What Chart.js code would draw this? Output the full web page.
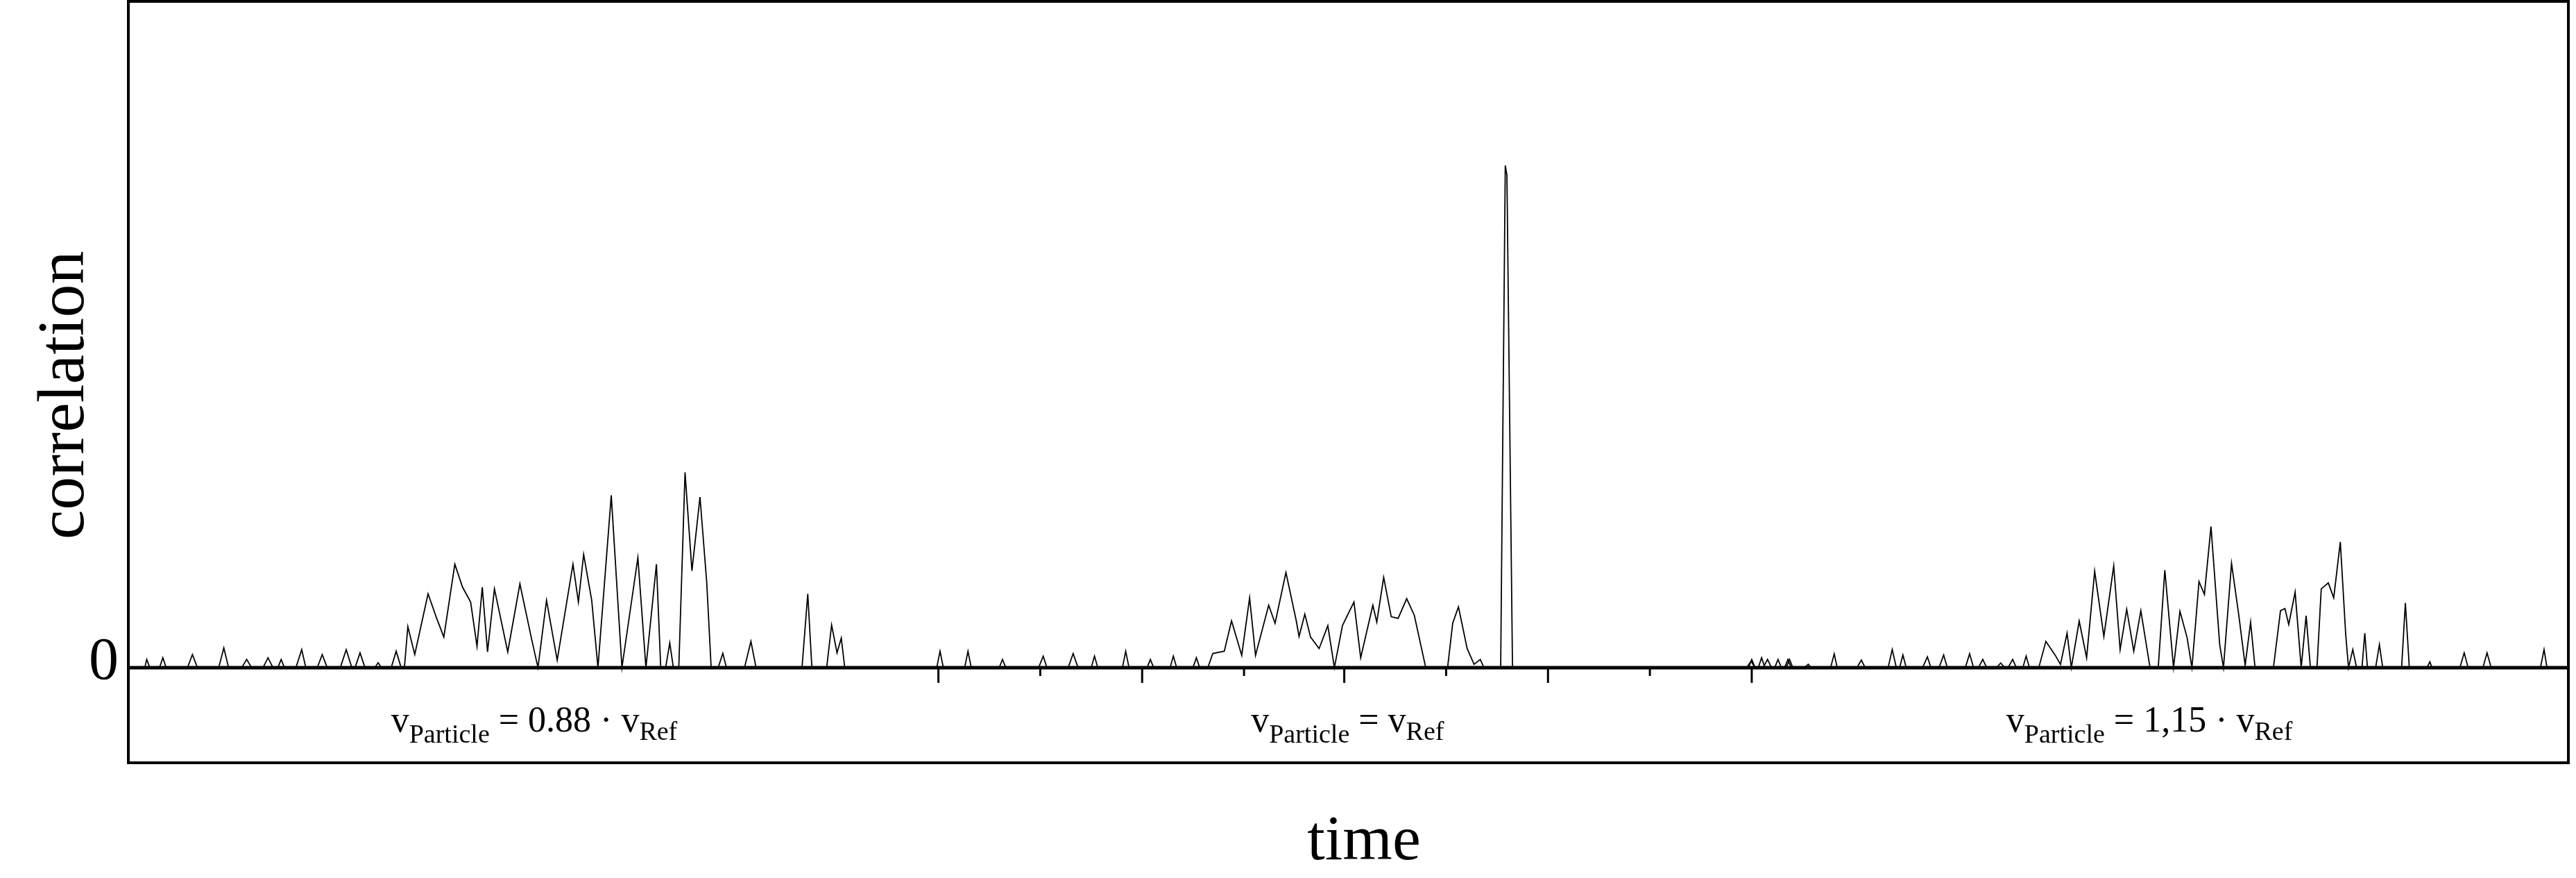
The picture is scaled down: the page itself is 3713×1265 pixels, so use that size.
<!DOCTYPE html>
<html><head><meta charset="utf-8">
<script src="https://cdn.jsdelivr.net/npm/chart.js@4"></script>
<style>html,body{margin:0;padding:0;background:#fff}#wrap{width:3713px;height:1265px}</style>
</head><body><div id="wrap"><canvas id="c" width="3713" height="1265"></canvas></div>
<script>
// x and y in arbitrary time / correlation units
const seg1X=[88,89.2,91,97,99,101,114,117,120,133,136.1,139,147,150,153,160,163,166,169,171,173,180,183.5,186,193,196,199,207,210.6,214,216,219,222,228,230,232,238,241,244,
246,248.1,252.3,260.4,265.3,270,276.7,281.4,286.3,290.2,293.4,296.6,300.8,308.9,316.3,323.5,327.3,332.5,339,348.6,351.9,355.1,360,363.8,371.9,378.4,388.1,393,399.4,402,405,407.5,409.7,413,416.8,421,425.9,430,432.7,437,439.8,442,453,456.9,460,488,491.5,494,503,506,509.3,511.9,514];
const seg1Y=[0,5,0,0,6,0,0,8,0,0,12,0,0,5,0,0,6,0,0,5,0,0,11,0,0,8,0,0,11,0,0,9,0,0,3,0,0,10,0,
0,25,8,45,31,18.6,63,49,40,13,49,9.6,48,9.6,51,17,0,41,4.5,63,40,69,41,0,105,0,67,0,63,0,0,15,0,0,119,59,104,52,0,0,8.7,0,0,16,0,0,45,0,0,26,9,18,0];
const seg2X=[570,572,574,587,589,591,608,610,612,632,634.8,637,650,653,656,664,666,668,683,685,687,698,700,702,712,714,716,726,728,730,
735,738,745,749.4,755.6,760.4,764,772,775.9,782.5,788.8,790.5,794,797.5,802.7,808,812,816.9,823.9,828,835.4,837.8,842,846.6,850.8,856,860.6,867.6,880.9,884,887.5,892.8,897,900.8,903,
913.2,916,917,920.4,1064,1066,1068,1070,1072,1074,1080,1082,1084,1087,1089,1091];
const seg2Y=[0,10,0,0,10,0,0,5,0,0,7,0,0,8.5,0,0,7,0,0,10,0,0,5,0,0,7,0,0,6,0,
0,8.6,10,28.5,7.5,42.5,7.5,38,27,58,28.5,19,32.6,18.6,11.6,25.6,0,25.6,40,6,38,27.7,55,31,30,42,32,0,0,27,37,11.6,2,5,0,
0,306,300,0,0,5,0,0,6,0,0,5,0,0,5,0];
const seg3X=[1063,1065.6,1068,1073,1075.6,1078,1086,1088,1090,1098,1100.4,1102,1114,1116.2,1118,1130,1132.7,1135,1149,1151.5,1154,1156,1158,1160,1170,1172.9,1175,1180,1182.8,1185,1196,1198.6,1201,1204,1206.6,1209,1215,1217.5,1220,1222,1224.8,1227,1231,1233,1235,
1240.7,1245,1250.6,1253.9,1257.9,1260.5,1265.3,1269.8,1274.7,1280.3,1286.3,1290.2,1294.2,1298.5,1302.8,1308.4,1313.4,1317.4,1322.7,1326.6,1330.9,1333.9,1338.2,1341.5,1345.5,1350.8,1353.1,1358,1362.4,1366.3,1369.6,1372.3,1383.5,1387.8,1390.5,1392.8,1396.7,1400.4,1403.4,1406,1410,1412.6,1416.9,1420.2,1424.2,1427.5,1429.2,1431.8,1434.1,1437.4,1439.1,1440.7,1445.7,1448,1450,1461.5,1463.8,1466.2,1477,1478.7,1480,1497,1499.6,1502,1511,1513.5,1516,1546,1548.2,1550];
const seg3Y=[0,4,0,0,5,0,0,5,0,0,2,0,0,8.4,0,0,4.6,0,0,11,0,0,7.7,0,0,6.6,0,0,7.7,0,0,8.4,0,0,5,0,0,2.8,0,0,5,0,0,7,0,
0,16,7.7,2,21,0,28.4,6,58.7,19,62,11,35.5,10,34.7,0,0,59.4,0,34.3,18.5,0,52.4,44.6,86,14,0,63.6,32,1.4,27.7,0,0,34.7,36,26.3,46,0,31.6,0,0,48,51.6,42.5,76.6,20,0,11,0,0,21,0,0,14,0,0,39.4,0,0,3.5,0,0,9,0,0,9,0,0,11,0];
const xMin=78, xMax=1563, yMin=-58, yMax=406;
const majorTicks=[571,695,818,942,1066];
const minorTicks=[633,757,880,1004];
const yTickLabels=[{v:0,t:"0"}];
const annotations=[
  {x:325, pre:"v", sub:"Particle", mid:" = 0.88 · v", sub2:"Ref"},
  {x:820, pre:"v", sub:"Particle", mid:" = v", sub2:"Ref"},
  {x:1308, pre:"v", sub:"Particle", mid:" = 1,15 · v", sub2:"Ref"}
];
const xTitle="time", yTitle="correlation";

const pts=[];
[[seg1X,seg1Y],[seg2X,seg2Y],[seg3X,seg3Y]].forEach(([xs,ys])=>xs.forEach((x,i)=>pts.push({x:x,y:ys[i]})));

const F="'Liberation Serif','DejaVu Serif',serif";
const deco={id:'deco',afterDatasetsDraw(ch){
  const c=ch.ctx,a=ch.chartArea,xs=ch.scales.x,ys=ch.scales.y;
  c.save();c.strokeStyle='#000';c.fillStyle='#000';
  c.lineWidth=4;c.strokeRect(a.left,a.top,a.right-a.left,a.bottom-a.top);
  const y0=ys.getPixelForValue(0);
  c.lineWidth=5;c.beginPath();c.moveTo(a.left,y0);c.lineTo(a.right,y0);c.stroke();
  c.lineWidth=3;
  majorTicks.forEach(t=>{const p=xs.getPixelForValue(t);c.beginPath();c.moveTo(p,y0);c.lineTo(p,y0+22);c.stroke();});
  minorTicks.forEach(t=>{const p=xs.getPixelForValue(t);c.beginPath();c.moveTo(p,y0);c.lineTo(p,y0+12);c.stroke();});
  c.font='86px '+F;c.textAlign='right';c.textBaseline='middle';
  yTickLabels.forEach(l=>c.fillText(l.t,a.left-14,ys.getPixelForValue(l.v)-6));
  c.textAlign='center';c.textBaseline='alphabetic';
  c.font='92px '+F;c.fillText(xTitle,xs.getPixelForValue(830),1238);
  c.save();c.translate(95,ys.getPixelForValue(406-240));c.rotate(-Math.PI/2);c.textBaseline='middle';c.font='96px '+F;c.fillText(yTitle,0,0);c.restore();
  c.textAlign='left';
  const by=ys.getPixelForValue(406-445);
  annotations.forEach(an=>{
    const big='52px '+F, sm='38px '+F;
    c.font=big;const w1=c.measureText(an.pre).width,w3=c.measureText(an.mid).width;
    c.font=sm;const w2=c.measureText(an.sub).width,w4=c.measureText(an.sub2).width;
    let x=xs.getPixelForValue(an.x)-(w1+w2+w3+w4)/2;
    c.font=big;c.fillText(an.pre,x,by);x+=w1;
    c.font=sm;c.fillText(an.sub,x,by+16);x+=w2;
    c.font=big;c.fillText(an.mid,x,by);x+=w3;
    c.font=sm;c.fillText(an.sub2,x,by+12);
  });
  c.restore();
}};
new Chart(document.getElementById('c'),{type:'line',
  data:{datasets:[{data:pts,borderColor:'#000',borderWidth:1.8,pointRadius:0,tension:0,fill:false}]},
  options:{responsive:false,animation:false,devicePixelRatio:1,
    layout:{padding:{left:185,right:11,top:2,bottom:166}},
    plugins:{legend:{display:false},tooltip:{enabled:false}},
    scales:{x:{type:'linear',min:xMin,max:xMax,display:false},y:{min:yMin,max:yMax,display:false}}},
  plugins:[deco]});
</script></body></html>
